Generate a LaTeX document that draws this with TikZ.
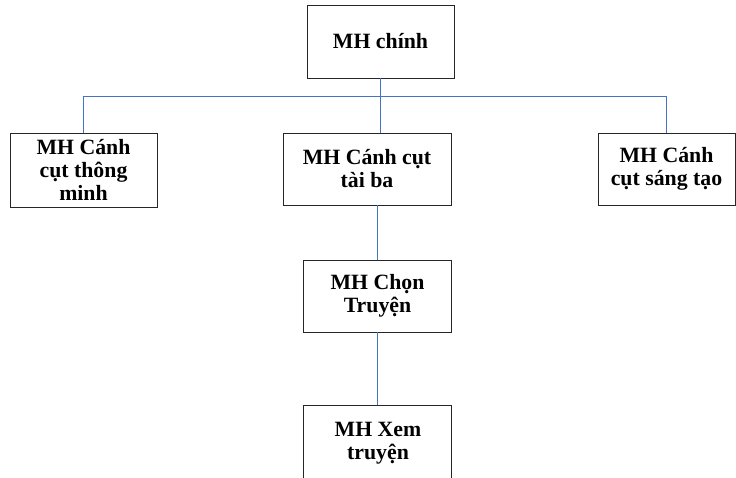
\documentclass[tikz,border=0pt]{standalone}
\usepackage{fontspec}
\setmainfont{Liberation Serif}
\definecolor{linkblue}{RGB}{68,114,196}
\begin{document}
\begin{tikzpicture}[x=1pt,y=-1pt,
  label font/.style={font=\fontsize{21.8}{23}\selectfont\bfseries},
  screen/.style={draw=black!85,line width=0.8pt,align=center,inner sep=0pt,label font},
  link/.style={draw=linkblue,line width=1.1pt}]
\useasboundingbox (0,0) rectangle (736,478);
% screens
\node[screen,minimum width=147pt,minimum height=73pt] (main) at (380.5,41.5) {MH chính};
\node[screen,minimum width=147pt,minimum height=74pt] (left) at (83.5,170) {MH Cánh\\cụt thông\\minh};
\node[screen,minimum width=168pt,minimum height=72pt] (mid) at (367,169) {MH Cánh cụt\\tài ba};
\node[screen,minimum width=137pt,minimum height=72pt] (right) at (666.5,169) {MH Cánh\\cụt sáng tạo};
\node[screen,minimum width=148pt,minimum height=72pt] (chon) at (377.5,296) {MH Chọn\\Truyện};
\node[screen,minimum width=148pt,minimum height=76pt,anchor=north] (xem) at (377.5,405) {};
\node[label font,align=center,inner sep=0pt] (xemtext) at (378,443) {MH Xem\\truyện};
% bus line and links
\coordinate (bus) at (0,96.5);
\draw[link] (main.south) -- (main.south |- bus);
\draw[link] (left.north) -- (left.north |- bus) -- (right.north |- bus) -- (right.north);
\draw[link] (main.south |- bus) -- (main.south |- mid.north);
\draw[link] (mid.south -| chon.north) -- (chon.north);
\draw[link] (chon.south) -- (xem.north);
\end{tikzpicture}
\end{document}
